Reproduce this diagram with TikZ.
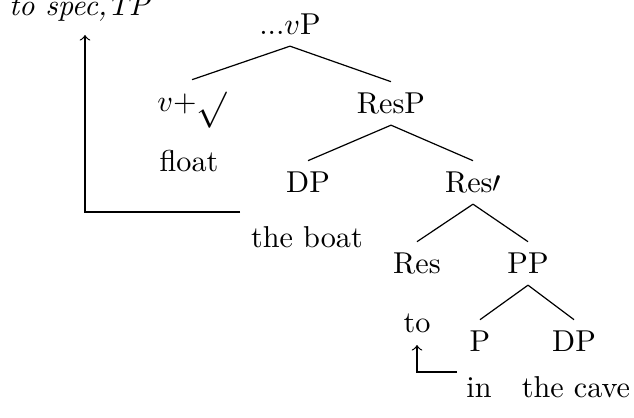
\documentclass[tikz,border=0pt]{standalone}
\usepackage{graphicx}
\begin{document}
\begin{tikzpicture}[x=0.3311pt,y=-0.3311pt,
  cat/.style={anchor=base,inner xsep=0pt,inner ysep=3.5pt,text height=7pt,text depth=0pt},
  word/.style={anchor=base,inner sep=0pt},
  branch/.style={line width=0.4pt},
  move/.style={line width=0.4pt,->}]
\useasboundingbox (0,0) rectangle (634,418);
\node[word] (spec) at (80,16) {\textit{to spec,TP}};
\node[cat] (vP) at (290,35) {...$v$P};
\node[cat] (v) at (192,112) {$v$+\raisebox{-2.5pt}{\scalebox{1.2}{$\surd$}}};
\node[word] (float) at (189,172) {float};
\node[cat] (ResP) at (391,114) {ResP};
\node[cat] (DP1) at (308,193) {DP};
\node[word] (boat) at (307,248) {the boat};
\node[cat] (Resbar) at (473,193) {Res$\prime$};
\node[cat] (Res) at (417,274) {Res};
\node[word] (to) at (417,332) {to};
\node[cat] (PP) at (528,274) {PP};
\node[cat] (P) at (480,352) {P};
\node[word] (in) at (479,397) {in};
\node[cat] (DP2) at (574,352) {DP};
\node[word] (cave) at (576,397) {the cave};
\draw[branch] (vP.south) -- (v.north);
\draw[branch] (vP.south) -- (ResP.north);
\draw[branch] (ResP.south) -- (DP1.north);
\draw[branch] (ResP.south) -- (Resbar.north);
\draw[branch] (Resbar.south) -- (Res.north);
\draw[branch] (Resbar.south) -- (PP.north);
\draw[branch] (PP.south) -- (P.north);
\draw[branch] (PP.south) -- (DP2.north);
\coordinate (dpgap) at (240,212);
\coordinate (spectip) at (85,35);
\draw[move] (dpgap) -| (spectip);
\coordinate (ingap) at (457,372);
\coordinate (totip) at (417,345);
\draw[move] (ingap) -| (totip);
\end{tikzpicture}
\end{document}
